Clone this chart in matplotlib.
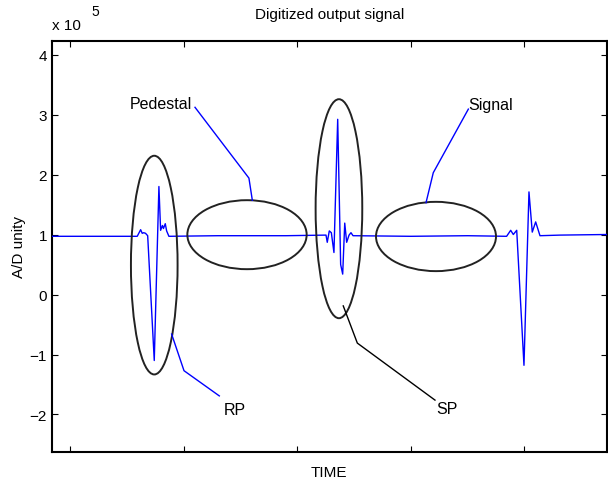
import matplotlib.pyplot as plt
from matplotlib.patches import Ellipse

plt.rcParams["font.family"] = ["Liberation Sans", "DejaVu Sans"]

time_pts = [83.9, 120.0, 159.0, 162.0, 163.4, 164.7, 166.3, 168.2, 174.0, 178.1,
            179.6, 181.2, 182.1, 183.7, 184.9, 186.9, 230.0, 290.0, 325.3, 326.4,
            328.2, 330.0, 332.3, 335.6, 338.2, 340.0, 341.8, 343.5, 345.6, 347.3,
            349.1, 400.0, 450.0, 484.4, 488.0, 490.3, 493.3, 499.7, 504.1, 507.0,
            510.0, 513.8, 531.4, 572.6]
signal = [0.97, 0.97, 0.97, 1.08, 1.02, 1.03, 1.02, 0.98, -1.10, 1.80,
          1.07, 1.15, 1.10, 1.18, 1.06, 0.97, 0.98, 0.98, 0.99, 0.87,
          1.06, 1.03, 0.70, 2.92, 0.50, 0.34, 1.19, 0.87, 0.99, 1.03,
          0.98, 0.97, 0.98, 0.97, 1.07, 1.00, 1.07, -1.18, 1.71, 1.04,
          1.21, 0.98, 0.99, 1.00]

# ellipses: name, center x, center y, width, height
ell_names = ["RP", "Pedestal", "SP", "Signal"]
ell_cx = [174.0, 255.7, 336.7, 422.2]
ell_cy = [0.49, 0.997, 1.43, 0.967]
ell_w = [41.1, 105.1, 41.1, 105.7]
ell_h = [3.645, 1.15, 3.65, 1.155]

# leader lines from label to ellipse
lead_x = {"Pedestal": [209.9, 257.4, 260.4], "Signal": [450.7, 419.8, 413.4],
          "RP": [189.3, 200.2, 231.3], "SP": [340.5, 352.9, 421.3]}
lead_y = {"Pedestal": [3.12, 1.94, 1.57], "Signal": [3.09, 2.03, 1.53],
          "RP": [-0.66, -1.27, -1.69], "SP": [-0.19, -0.81, -1.76]}
lead_color = {"Pedestal": "#0000ff", "Signal": "#0000ff", "RP": "#0000ff", "SP": "black"}
label_pos = {"Pedestal": (207.2, 3.19, "right"), "Signal": (450.4, 3.17, "left"),
             "RP": (234.8, -1.91, "left"), "SP": (422.8, -1.90, "left")}

x_ticks = [100, 200, 300, 400, 500]
y_ticks = [-2, -1, 0, 1, 2, 3, 4]

fig = plt.figure(figsize=(6.08, 4.85), dpi=100)
ax = fig.add_axes([0.0855, 0.0666, 0.9124, 0.8474])

ax.plot(time_pts, signal, color="#0000ff", lw=1.0, zorder=3)

for name, cx, cy, w, h in zip(ell_names, ell_cx, ell_cy, ell_w, ell_h):
    ax.add_patch(Ellipse((cx, cy), w, h, fill=False, edgecolor="#222222", lw=1.4, zorder=4))

for name in ell_names:
    ax.plot(lead_x[name], lead_y[name], color=lead_color[name], lw=1.0, zorder=4)
    tx, ty, ha = label_pos[name]
    ax.text(tx, ty, name, ha=ha, va="center", fontsize=11.5)

ax.set_xlim(83.9, 572.6)
ax.set_ylim(-2.62, 4.23)
ax.set_xticks(x_ticks)
ax.set_xticklabels([])
ax.set_yticks(y_ticks)
ax.tick_params(direction="in", top=True, right=True, length=4, width=0.8, labelsize=11)
for sp in ax.spines.values():
    sp.set_linewidth(1.5)

ax.set_title("Digitized output signal", fontsize=11, pad=16)
ax.set_xlabel("TIME", fontsize=11, labelpad=6)
ax.set_ylabel("A/D unity", fontsize=11, labelpad=3)
ax.text(0.0, 1.038, "x 10", transform=ax.transAxes, fontsize=11, ha="left", va="center")
ax.text(0.071, 1.072, "5", transform=ax.transAxes, fontsize=10, ha="left", va="center")

fig.savefig("out.png", dpi=100)
